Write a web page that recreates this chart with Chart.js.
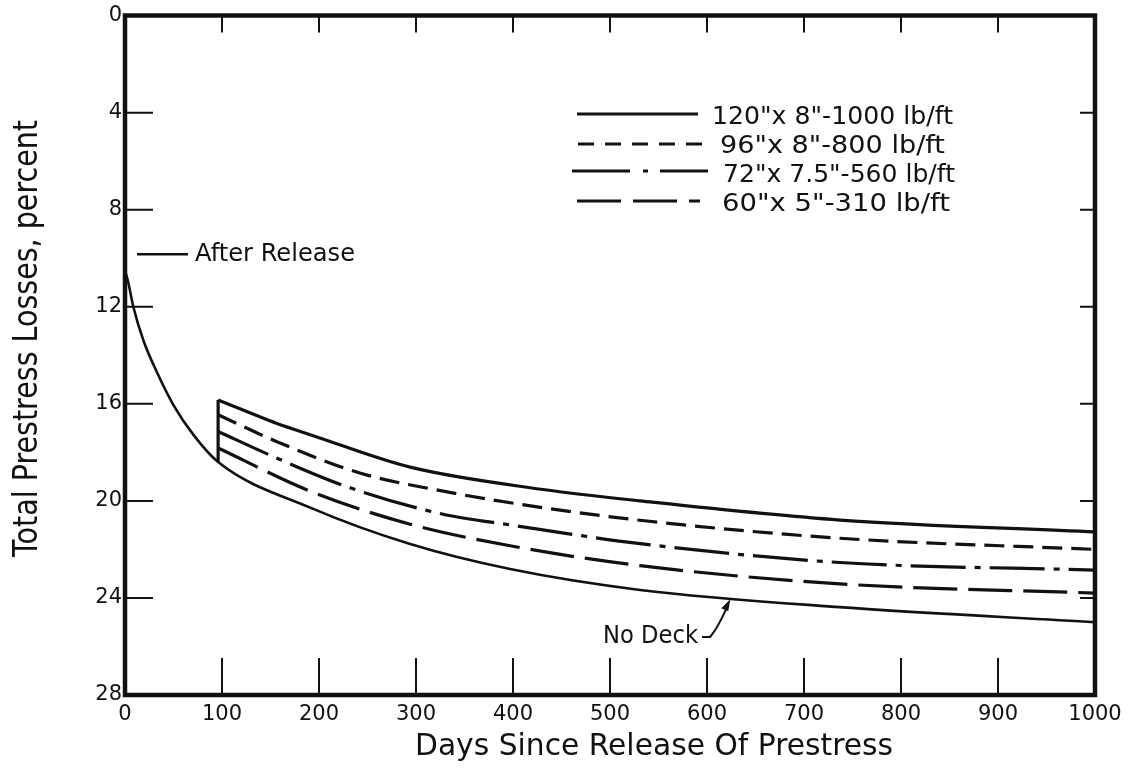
<!DOCTYPE html>
<html><head><meta charset="utf-8">
<script src="https://cdn.jsdelivr.net/npm/chart.js@4.4.1/dist/chart.umd.min.js"></script>
<style>html,body{margin:0;padding:0;background:#fff;}canvas{display:block;}</style>
</head><body>
<canvas id="c" width="1134" height="768"></canvas>
<script>
// ---- data ----
const xTickValues = [0,100,200,300,400,500,600,700,800,900,1000];
const yTickValues = [0,4,8,12,16,20,24,28];

const noDeckDays   = [0, 3.4, 8.6, 18.9, 32.7, 49.8, 70.4, 96, 191, 294, 397, 531, 737, 1000];
const noDeckLoss   = [10.5, 11.0, 12.0, 13.38, 14.68, 16.04, 17.27, 18.4, 20.28, 21.78, 22.81, 23.67, 24.38, 25.0];

const deck120Days  = [96, 156, 191, 294, 431, 531, 737, 1000];
const deck120Loss  = [15.84, 16.8, 17.27, 18.61, 19.53, 20.0, 20.79, 21.28];

const deck96Days   = [96, 156, 242, 328, 431, 538, 737, 1000];
const deck96Loss   = [16.45, 17.55, 18.85, 19.6, 20.28, 20.83, 21.54, 22.0];

const deck72Days   = [96, 156, 232, 328, 397, 531, 737, 1000];
const deck72Loss   = [17.14, 18.23, 19.46, 20.55, 20.99, 21.76, 22.54, 22.85];

const deck60Days   = [96, 191, 294, 397, 531, 737, 1000];
const deck60Loss   = [17.82, 19.6, 20.96, 21.85, 22.67, 23.42, 23.8];

const deckPlacementDays = [96, 96];
const deckPlacementLoss = [18.4, 15.84];

const afterReleaseLoss = 9.84;
const legendLabels = ['120"x 8"-1000 lb/ft', '96"x 8"-800 lb/ft', '72"x 7.5"-560 lb/ft', '60"x 5"-310 lb/ft'];
const xTitle = 'Days Since Release Of Prestress';
const yTitle = 'Total Prestress Losses, percent';

// ---- helpers ----
const pts = (xs, ys) => xs.map((x, i) => ({x, y: ys[i]}));
const INK = '#111';
const FONT = 'DejaVu Sans';

function fitText(ctx, text, x, y, size, width, rot) {
  ctx.save();
  ctx.font = size + 'px "' + FONT + '"';
  ctx.fillStyle = INK;
  ctx.textAlign = 'left';
  ctx.textBaseline = 'alphabetic';
  const w = ctx.measureText(text).width;
  ctx.translate(x, y);
  if (rot) ctx.rotate(rot);
  ctx.scale(width / w, 1);
  ctx.fillText(text, 0, 0);
  ctx.restore();
}

const STYLES = {
  solid: [],
  dashed: [20, 9],
  dashdot: [55, 9, 6, 9],
  longdash: [44, 11]
};

const decor = {
  id: 'decor',
  afterDatasetsDraw(chart) {
    const ctx = chart.ctx;
    const a = chart.chartArea;
    const xs = chart.scales.x, ys = chart.scales.y;
    ctx.save();
    ctx.strokeStyle = INK;
    ctx.lineCap = 'butt';
    // frame
    ctx.lineWidth = 4.5;
    ctx.beginPath();
    ctx.rect(a.left, a.top, a.right - a.left, a.bottom - a.top);
    ctx.stroke();
    // inward ticks
    ctx.lineWidth = 2;
    ctx.beginPath();
    xTickValues.forEach(v => {
      if (v <= xs.min || v >= xs.max) return;
      const p = xs.getPixelForValue(v);
      ctx.moveTo(p, a.bottom); ctx.lineTo(p, a.bottom - 37);
      ctx.moveTo(p, a.top); ctx.lineTo(p, a.top + 17);
    });
    yTickValues.forEach(v => {
      if (v <= ys.min || v >= ys.max) return;
      const p = ys.getPixelForValue(v);
      ctx.moveTo(a.left, p); ctx.lineTo(a.left + 28, p);
      ctx.moveTo(a.right, p); ctx.lineTo(a.right - 15, p);
    });
    ctx.stroke();

    // After Release marker
    const ar = ys.getPixelForValue(afterReleaseLoss);
    ctx.lineWidth = 2.5;
    ctx.beginPath(); ctx.moveTo(a.left + 12, ar); ctx.lineTo(a.left + 63, ar); ctx.stroke();
    fitText(ctx, 'After Release', a.left + 70, ar + 7, 24, 160);

    // No Deck label + arrow
    fitText(ctx, 'No Deck', 603, 643, 24, 95);
    const tipX = xs.getPixelForValue(624), tipY = ys.getPixelForValue(24.05);
    ctx.lineWidth = 2;
    ctx.beginPath();
    ctx.moveTo(702, 637);
    ctx.lineTo(710, 637);
    ctx.quadraticCurveTo(718, 628, tipX - 2, tipY + 5);
    ctx.stroke();
    ctx.fillStyle = INK;
    ctx.beginPath();
    ctx.moveTo(tipX, tipY);
    ctx.lineTo(tipX - 9, tipY + 9);
    ctx.lineTo(tipX - 2, tipY + 12);
    ctx.closePath();
    ctx.fill();

    // legend
    const rows = [
      {style: 'solid',    x0: 577, x1: 698, ly: 114, tx: 712, tw: 241, by: 124},
      {style: 'dashed',   x0: 578, x1: 705, ly: 144, tx: 720, tw: 225, by: 153},
      {style: 'dashdot',  x0: 572, x1: 708, ly: 171, tx: 723, tw: 232, by: 182},
      {style: 'longdash', x0: 577, x1: 700, ly: 201, tx: 722, tw: 228, by: 211}
    ];
    const legendDash = {solid: [], dashed: [16, 11], dashdot: [58, 13, 5, 12], longdash: [44, 12]};
    rows.forEach((r, i) => {
      ctx.lineWidth = 3;
      ctx.setLineDash(legendDash[r.style]);
      ctx.beginPath(); ctx.moveTo(r.x0, r.ly); ctx.lineTo(r.x1, r.ly); ctx.stroke();
      ctx.setLineDash([]);
      fitText(ctx, legendLabels[i], r.tx, r.by, 25, r.tw);
    });

    // axis titles
    fitText(ctx, xTitle, 415, 755, 30, 478);
    fitText(ctx, yTitle, 37, 557, 34, 437, -Math.PI / 2);
    ctx.restore();
  }
};

const lineDs = (label, data, dash, width) => ({
  label, data, borderColor: INK, borderWidth: width, borderDash: dash,
  pointRadius: 0, fill: false, cubicInterpolationMode: 'monotone', borderCapStyle: 'butt'
});

Chart.defaults.font.family = FONT;
Chart.defaults.color = INK;

new Chart(document.getElementById('c'), {
  type: 'line',
  data: {
    datasets: [
      lineDs('No Deck', pts(noDeckDays, noDeckLoss), STYLES.solid, 2.6),
      lineDs(legendLabels[0], pts(deck120Days, deck120Loss), STYLES.solid, 3.2),
      lineDs(legendLabels[1], pts(deck96Days, deck96Loss), STYLES.dashed, 3.2),
      lineDs(legendLabels[2], pts(deck72Days, deck72Loss), STYLES.dashdot, 3.2),
      lineDs(legendLabels[3], pts(deck60Days, deck60Loss), STYLES.longdash, 3.2),
      Object.assign(lineDs('deck placed', pts(deckPlacementDays, deckPlacementLoss), STYLES.solid, 3.2), {cubicInterpolationMode: 'default', tension: 0})
    ]
  },
  options: {
    responsive: false,
    devicePixelRatio: 1,
    animation: false,
    events: [],
    layout: {padding: {left: 0, right: 39, top: 12, bottom: 0}},
    plugins: {legend: {display: false}, tooltip: {enabled: false}, title: {display: false}},
    scales: {
      x: {
        type: 'linear', min: 0, max: 1000,
        afterFit: s => { s.height = 73; },
        afterBuildTicks: s => { s.ticks = xTickValues.map(v => ({value: v})); },
        grid: {display: false, drawTicks: false},
        border: {display: false},
        ticks: {padding: 7, font: {size: 21}, color: INK, maxRotation: 0, autoSkip: false, callback: v => String(v)}
      },
      y: {
        type: 'linear', min: 0, max: 28, reverse: true,
        afterFit: s => { s.width = 125; },
        afterBuildTicks: s => { s.ticks = yTickValues.map(v => ({value: v})); },
        grid: {display: false, drawTicks: false},
        border: {display: false},
        ticks: {padding: 3, font: {size: 21}, color: INK, autoSkip: false, callback: v => String(v)}
      }
    }
  },
  plugins: [decor]
});
</script>
</body></html>
